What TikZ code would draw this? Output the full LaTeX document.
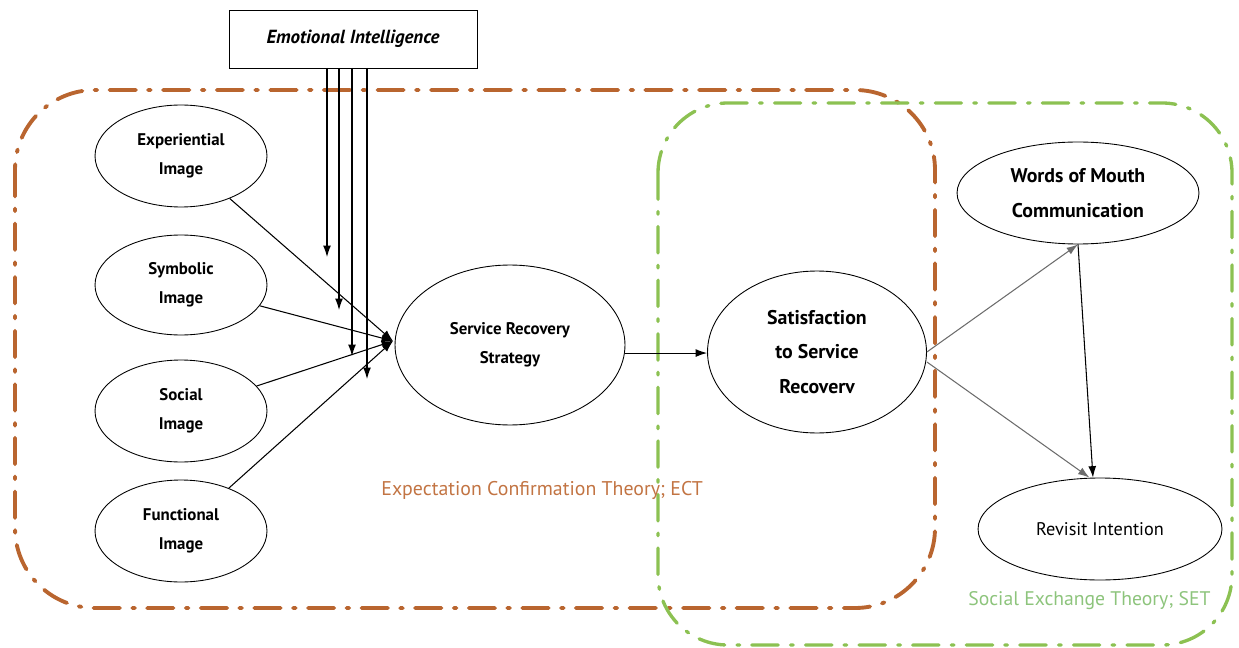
\documentclass[tikz,border=0pt]{standalone}
\usepackage{fontspec}
\setmainfont{PT Sans}
\usetikzlibrary{shapes.geometric,arrows.meta}
\definecolor{ectorange}{HTML}{B9652F}
\definecolor{ecttext}{HTML}{C27443}
\definecolor{setgreen}{HTML}{8CC152}
\definecolor{settext}{HTML}{8DC47C}
\tikzset{
  oval/.style={draw, ellipse, inner sep=0pt, align=center, line width=0.5pt},
  small/.style={font=\fontsize{9.6}{16.5}\selectfont\bfseries},
  big/.style={font=\fontsize{11.3}{19.5}\selectfont\bfseries},
  arr/.style={-{Latex[length=6.5pt,width=4.5pt]}, line width=0.6pt},
  grayarr/.style={arr, draw=gray!85!black},
  theory/.style={line width=2.2pt, line cap=round, dash pattern=on 15pt off 7pt on 1.5pt off 7pt},
}
\begin{document}
\begin{tikzpicture}[x=0.02cm,y=-0.02cm]
\useasboundingbox (0,0) rectangle (1239,648);
% theory frames
\draw[theory, ectorange, rounded corners=1.6cm] (15,90) rectangle (935,608);
\draw[theory, setgreen, line width=1.9pt, rounded corners=1.4cm] (658,103) rectangle (1232,645);
% nodes
\node[draw, line width=0.5pt, minimum width=4.96cm, minimum height=1.16cm, inner sep=0pt,
      font=\fontsize{10.8}{12}\selectfont\bfseries\itshape] (ei) at (353,39) {Emotional Intelligence};
\node[oval, small, minimum width=3.44cm, minimum height=2.04cm] (exp) at (181,156) {Experiential\\Image};
\node[oval, small, minimum width=3.44cm, minimum height=2.0cm] (sym) at (181,285) {Symbolic\\Image};
\node[oval, small, minimum width=3.44cm, minimum height=2.04cm] (soc) at (181,411) {Social\\Image};
\node[oval, small, minimum width=3.44cm, minimum height=2.04cm] (fun) at (181,531) {Functional\\Image};
\node[oval, small, minimum width=4.6cm, minimum height=3.2cm] (srs) at (510,345) {Service Recovery\\Strategy};
\node[oval, big, minimum width=4.38cm, minimum height=3.24cm] (sat) at (817,352) {Satisfaction\\to Service\\Recoverv};
\node[oval, big, minimum width=4.84cm, minimum height=2.04cm] (wom) at (1078,193) {Words of Mouth\\Communication};
\node[oval, font=\fontsize{10.4}{12}\selectfont, minimum width=4.88cm, minimum height=2.04cm] (ri) at (1100,529) {Revisit Intention};
% labels
\node[text=ecttext, font=\fontsize{11.3}{13}\selectfont, anchor=west, inner sep=0pt] (ectlabel) at (381,490) {Expectation Confirmation Theory; ECT};
\node[text=settext, font=\fontsize{11.2}{13}\selectfont, anchor=west, inner sep=0pt] (setlabel) at (968,601) {Social Exchange Theory; SET};
% moderator arrows
\coordinate (e1) at (327,68); \coordinate (t1) at (327,257);
\coordinate (e2) at (339,68); \coordinate (t2) at (339,310);
\coordinate (e3) at (352,68); \coordinate (t3) at (352,356);
\coordinate (e4) at (367,68); \coordinate (t4) at (367,379);
\draw[arr] (e1) -- (t1);
\draw[arr] (e2) -- (t2);
\draw[arr] (e3) -- (t3);
\draw[arr] (e4) -- (t4);
% image arrows
\coordinate (hub) at (393,341);
\draw[arr] (exp) -- (hub);
\draw[arr] (sym) -- (hub);
\draw[arr] (soc) -- (hub);
\draw[arr] (fun) -- (hub);
% main path
\draw[arr] (srs.-4) -- (srs.-4 -| sat.west);
\draw[grayarr] (sat.east) -- (wom.south);
\draw[grayarr] (sat.east) ++(0,10) -- ([xshift=-6pt]ri.north);
\draw[arr] (wom.south) -- ([xshift=-4pt]ri.north);
\end{tikzpicture}
\end{document}
